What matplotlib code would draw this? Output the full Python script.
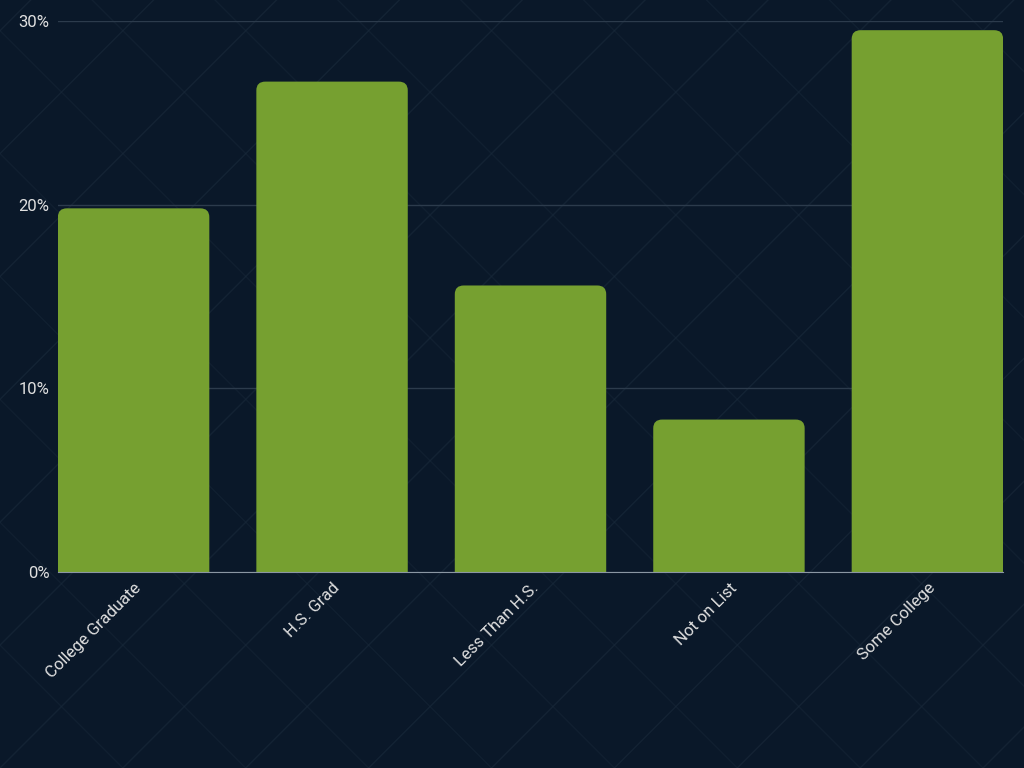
import matplotlib
matplotlib.use("Agg")
import matplotlib.pyplot as plt
from matplotlib.patches import FancyBboxPatch
from matplotlib.lines import Line2D

categories = ["College Graduate", "H.S. Grad", "Less Than H.S.", "Not on List", "Some College"]
values = [19.8, 26.7, 15.6, 8.3, 29.5]
yticks = [0, 10, 20, 30]

bg = "#0a1829"
fig = plt.figure(figsize=(10.24, 7.68), dpi=100, facecolor=bg)
# faint diagonal background pattern
for i in range(-12, 24):
    x0 = i * 0.12
    fig.add_artist(Line2D([x0, x0 + 0.75], [0, 1], transform=fig.transFigure, color="#1a2a3b", lw=1, alpha=0.6, zorder=0))
    fig.add_artist(Line2D([x0, x0 - 0.75], [0, 1], transform=fig.transFigure, color="#1a2a3b", lw=1, alpha=0.4, zorder=0))

ax = fig.add_axes([58/1024, 1-572/768, 945/1024, (572-21)/768])
ax.set_facecolor("none")
w = 0.763
ax.set_xlim(-0.381, 4.381)
ax.set_ylim(0, 30)
for i, v in enumerate(values):
    p = FancyBboxPatch((i - w/2, -2), w, v + 2, boxstyle="round,pad=0,rounding_size=0.045",
                       mutation_aspect=10.5, fc="#76a030", ec="none", zorder=3, clip_on=True)
    ax.add_patch(p)
ax.set_yticks(yticks)
ax.set_yticklabels([f"{t}%" for t in yticks], color="#e0e0e0", fontsize=12, fontfamily="Roboto")
ax.set_xticks(range(len(categories)))
ax.set_xticklabels(categories, rotation=45, ha="right", rotation_mode="anchor", color="#e0e0e0", fontsize=12, fontfamily="Roboto")
ax.tick_params(length=0, pad=6)
ax.grid(axis="y", color="#2c3b4c", lw=1, zorder=1)
for s in ["top", "right", "left"]:
    ax.spines[s].set_visible(False)
ax.spines["bottom"].set_color("#8a96a3")
ax.spines["bottom"].set_zorder(4)
fig.savefig("out.png", dpi=100, facecolor=bg)
